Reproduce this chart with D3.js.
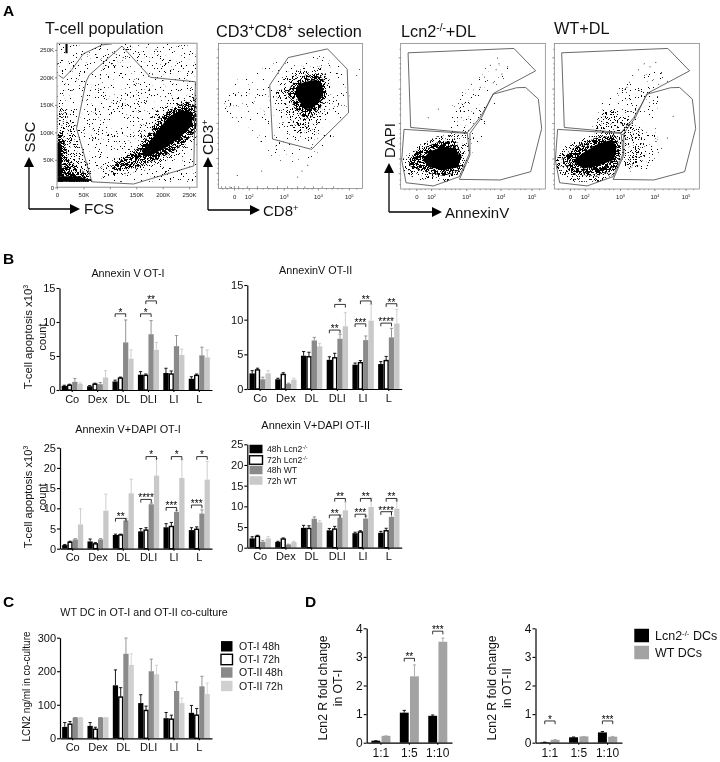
<!DOCTYPE html>
<html>
<head>
<meta charset="utf-8">
<script src="https://cdn.jsdelivr.net/npm/d3@7"></script>
<style>
  html, body { margin: 0; padding: 0; background: #fff; }
  svg { display: block; font-family: "Liberation Sans", Arial, sans-serif; filter: blur(0.3px); }
</style>
</head>
<body>
<div id="figure"></div>
<script>
// Panel A: gates and density outlines
const fcsTicks = [0, 50, 100, 150, 200, 250];
const sscTicks = [0, 50, 100, 150, 200, 250];
const fcsMainGate = [[123,257],[61,204],[55,192],[37,107],[66,10],[145,6],[259,39],[262,192],[177,200]];
const fcsTopGate = [[3,204],[12,198],[28,214],[50,243],[85,259],[104,261]];
const fcsRegions = [
  ["sparse", [[0,10],[0,262],[265,262],[265,10]]],
  ["low", [[94,41],[145,68],[177,129],[215,162],[265,171],[265,86],[227,56],[158,29],[107,22]]],
  ["low", [[0,10],[0,150],[20,150],[35,100],[55,50],[70,10]]],
  ["mid", [[104,38],[158,74],[186,116],[215,144],[246,156],[265,147],[265,104],[234,74],[196,53],[145,35],[110,29]]],
  ["mid", [[0,10],[0,100],[10,100],[22,50],[55,25],[65,10]]],
  ["solid", [[160,68],[170,74],[189,101],[211,128],[234,140],[256,137],[256,113],[234,92],[208,74],[183,60],[165,56]]],
  ["solid", [[0,10],[0,20],[38,20],[60,14],[60,10]]],
  ["solid", [[0,20],[0,80],[7,80],[10,20]]],
  ["solid", [[16,244],[16,262],[20,262],[20,244]]]
];

// biexponential axes, so these three panels are in percent of the channel range
const chanTicks = [10.8, 21, 45.3, 69, 90.5];
const chanLabels = ["0", "10^2^", "10^3^", "10^4^", "10^5^"];
const chanMinor = [3, 6, 14, 17, 27, 31, 35, 38, 41, 51, 55, 59, 62, 65, 75, 79, 83, 86, 96];

const cd3Gate = [[48.4,90.3],[75.7,96.3],[89.4,82.3],[90.3,52.2],[64.6,27],[37.5,34.1],[35.6,71.3]];
const cd3Regions = [
  ["trace", [[2,55],[4,75],[25,80],[42,88],[70,92],[85,84],[92,60],[78,32],[60,18],[40,18],[25,38],[5,50]]],
  ["sparse", [[34,62],[40,72],[50,84],[70,86],[80,72],[78,55],[72,42],[62,32],[50,34],[42,48]]],
  ["low", [[38,68],[46,76],[58,84],[72,84],[78,72],[76,60],[72,48],[64,38],[54,38],[46,52]]],
  ["mid", [[47,66],[52,73],[60,78],[70,79],[74,73],[75,65],[71,56],[66,50],[60,48],[53,55]]],
  ["solid", [[53,66],[56,72],[62,74],[68,75],[72,71],[73,66],[70,60],[65,55],[60,55],[56,60]]]
];
const cd3Dots = [[2,1],[5,1],[8,1],[11,1],[14,1],[9,0.5],[20,1],[27,1],[34,1],[41,1],[48,1],[55,1],[60,1],[66,1],[72,1],[80,1],[30,12],[58,12],[62,16],[55,8],[13,9],[96,78],[98,82]];

const annexTopGate = [[5.1,93.6],[78.3,96.6],[93.3,81.2],[64.1,65.7],[60.6,58.8],[54.9,49.2],[46.1,38.7],[6.9,42.3]];
const annexLiveGate = [[2.3,41],[46.1,38.2],[47.5,24.5],[40.6,8.5],[22.6,2.1],[3.7,4.3],[0.7,19.9]];
const annexEarlyGate = [[64.1,65.2],[80.2,69.6],[86.4,69.8],[95.2,61.8],[97.5,41.6],[89.9,11.9],[68.7,6.2],[40.6,6.6],[47.9,23.3],[47.9,38.2],[56,49.2],[62.2,62.2]];

const lcnRegions = [
  ["trace", [[33,40],[36,58],[44,68],[60,70],[66,62],[64,44],[56,25],[48,14],[44,30]]],
  ["trace", [[50,70],[60,85],[75,85],[72,72]]],
  ["sparse", [[34,38],[38,55],[46,62],[52,52],[50,38],[48,28],[46,14],[42,28]]],
  ["low", [[1,20],[8,28],[25,36],[38,38],[45,30],[44,12],[32,5],[12,6],[2,12]]],
  ["mid", [[6,21],[12,27],[25,32],[38,33],[42,24],[41,13],[30,9],[15,12],[6,16]]],
  ["solid", [[15,20],[20,26],[30,29],[38,28],[41,22],[40,15],[30,13],[20,15]]]
];
const lcnDots = [[62,85],[66,82],[68,86],[70,79],[64,73],[58,77],[55,70],[49,72],[19,49],[26,55],[74,84],[67,90]];

const wtRegions = [
  ["sparse", [[25,40],[32,58],[48,72],[62,78],[70,82],[76,78],[72,65],[70,45],[72,25],[65,14],[52,12],[48,30],[35,38]]],
  ["low", [[28,38],[30,50],[38,55],[48,50],[58,42],[64,25],[58,15],[48,15],[45,32],[35,36]]],
  ["low", [[1,20],[8,30],[28,38],[43,41],[47,28],[44,12],[32,5],[12,5],[2,12]]],
  ["mid", [[5,20],[13,28],[28,35],[42,37],[46,28],[43,14],[30,9],[12,10]]],
  ["solid", [[13,19],[20,25],[30,31],[40,34],[43,29],[41,20],[30,16],[20,14]]]
];
const wtDots = [[58,82],[62,86],[66,84],[70,87],[74,80],[54,78],[50,70],[72,72],[78,74],[82,50],[78,35],[74,28],[26,36]];

// Panels B and C: value rows are per group, in the order of the four series
const treatments = ["Co", "Dex", "DL", "DLI", "LI", "L"];
const timeSeries = ["48h Lcn2^-/-^", "72h Lcn2^-/-^", "48h WT", "72h WT"];
const cultureSeries = ["OT-I 48h", "OT-I 72h", "OT-II 48h", "OT-II 72h"];

const annexOt1 = [[0.6,0.7,1.2,0.9],[0.55,0.85,0.85,1.85],[1.25,1.75,7,4.6],[2.25,2.15,8.2,5.9],[2.5,2.35,6.45,5.15],[1.65,2.15,5.1,4.8]];
const annexOt1Top = [[0.7,0.85,1.7,1.05],[0.65,1,1.1,2.85],[1.45,1.9,10.3,5.9],[2.7,2.35,10.2,7],[3.2,2.8,8,6],[1.95,2.35,6.3,5.9]];
const annexOt1Sig = [["DL",0,2,11.2,"*"],["DLI",0,2,11.2,"*"],["DLI",1,3,13.1,"**"]];

const annexOt2 = [[2.25,2.75,1.4,2.25],[1.4,2.1,0.75,1.35],[4.8,4.65,7,6.15],[4.2,4.5,7.25,9.05],[3.5,3.8,7.05,9.85],[3.6,4.1,7.45,9.45]];
const annexOt2Top = [[2.65,3,1.7,2.65],[1.55,2.35,0.85,1.55],[5.4,5.3,7.45,6.6],[4.65,5.15,7.9,11],[3.75,4.1,7.65,12.2],[3.95,4.7,8.75,11.5]];
const annexOt2Sig = [["DLI",0,2,8.5,"**"],["DLI",1,3,12.2,"*"],["LI",0,2,9.4,"***"],["LI",1,3,12.7,"**"],["L",0,2,9.5,"****"],["L",1,3,12.3,"**"]];

const dapiOt1 = [[0.9,1.6,2.3,6],[1.8,1.2,2.3,9.4],[3.4,3.4,7,13.7],[4.3,4.6,11,18.1],[5.3,5.5,9.1,17.5],[4.6,4.8,8.7,17.1]];
const dapiOt1Top = [[1.05,1.85,2.5,9.9],[2.4,1.5,2.5,13.5],[3.6,3.6,7.4,17.2],[5,5.2,11.3,22.3],[6.2,6.5,9.4,22],[5.2,5.4,9.6,21.6]];
const dapiOt1Sig = [["DL",0,2,7.5,"**"],["DLI",0,2,12.2,"****"],["DLI",1,3,22.8,"*"],["LI",0,2,10.2,"***"],["LI",1,3,22.8,"*"],["L",0,2,10.8,"***"],["L",1,3,22.8,"*"]];

const dapiOt2 = [[2.25,2.75,1.4,2.25],[1.4,2.1,0.75,1.35],[4.8,4.65,7,6.15],[4.2,4.5,7.25,9.05],[3.5,3.8,7.05,9.85],[3.6,4.1,7.45,9.45]];
const dapiOt2Top = [[2.65,3,1.7,2.65],[1.55,2.35,0.85,1.55],[5.4,5.3,7.45,6.6],[4.65,5.15,7.9,11],[3.75,4.1,7.65,12],[3.95,4.7,8.75,11.5]];
const dapiOt2Sig = [["DLI",0,2,7.9,"**"],["DLI",1,3,11.9,"**"],["LI",0,2,8.1,"***"],["LI",1,3,11.9,"**"],["L",0,2,8.7,"****"],["L",1,3,11.9,"**"]];

const lcn2Level = [[34,42,62,62],[37,27,62,62],[158,123,252,219],[105,83,200,191],[60,57,141,105],[76,69,155,132]];
const lcn2Top = [[47,50,62,62],[47,33,62,62],[204,151,299,252],[130,96,236,218],[77,69,168,120],[98,89,185,165]];

// Panel D
const ratios = ["1:1", "1:5", "1:10"];
const dcSeries = ["Lcn2^-/-^ DCs", "WT DCs"];
const foldOt1 = [[0.07,0.24],[1.05,2.32],[0.94,3.53]];
const foldOt1Top = [[0.07,0.24],[1.13,2.72],[0.97,3.66]];
const foldOt1Sig = [["1:5",0,1,2.95,"**"],["1:10",0,1,3.9,"***"]];
const foldOt2 = [[0.02,0.1],[0.19,0.22],[0.36,0.21]];
const foldOt2Top = [[0.02,0.11],[0.2,0.22],[0.39,0.22]];
const foldOt2Sig = [["1:1",0,1,0.76,"*"],["1:10",0,1,0.76,"***"]];

const fourColors = ["#000", "#fff", "#8a8a8a", "#c9c9c9"];
const twoColors = ["#000", "#a3a3a3"];

const width = 720;
const height = 762;

const svg = d3.select("#figure").append("svg")
  .attr("width", width)
  .attr("height", height)
  .attr("viewBox", [0, 0, width, height]);

const defs = svg.append("defs");

// stipple textures for the flow cytometry clouds: cut-off on a noise field
const stipple = { trace: 0.70, sparse: 0.67, low: 0.59, mid: 0.46 };
Object.keys(stipple).forEach(function (k) {
  const f = defs.append("filter")
    .attr("id", "st-" + k)
    .attr("filterUnits", "userSpaceOnUse")
    .attr("x", 0).attr("y", 0).attr("width", width).attr("height", 240)
    .attr("color-interpolation-filters", "sRGB");
  f.append("feTurbulence")
    .attr("type", "fractalNoise")
    .attr("baseFrequency", 2.37)
    .attr("numOctaves", 1)
    .attr("seed", 4)
    .attr("result", "n");
  f.append("feColorMatrix")
    .attr("in", "n")
    .attr("type", "matrix")
    .attr("values", `0 0 0 0 0  0 0 0 0 0  0 0 0 0 0  40 0 0 0 ${-40 * stipple[k]}`)
    .attr("result", "dots");
  f.append("feComposite")
    .attr("in", "dots")
    .attr("in2", "SourceAlpha")
    .attr("operator", "in");
});

defs.append("marker")
  .attr("id", "head")
  .attr("markerUnits", "userSpaceOnUse")
  .attr("viewBox", "0 0 10 10")
  .attr("refX", 1).attr("refY", 5)
  .attr("markerWidth", 10).attr("markerHeight", 10)
  .attr("orient", "auto")
  .append("path")
  .attr("d", "M0,0L10,5L0,10Z")
  .attr("fill", "#000");

// text with ^superscript^ parts
function rich(sel, str) {
  str.split("^").forEach(function (part, i) {
    if (part === "") return;
    const t = sel.append("tspan").text(part);
    if (i % 2 === 1) {
      t.attr("font-size", "0.62em").attr("dy", "-0.55em");
    } else if (i > 0) {
      t.attr("dy", "0.34em");
    }
  });
  return sel;
}

function label(x, y, str, size, opts) {
  opts = opts || {};
  const t = svg.append("text")
    .attr("transform", `translate(${x},${y})` + (opts.rotate ? " rotate(-90)" : ""))
    .attr("font-size", size)
    .attr("text-anchor", opts.anchor || "start")
    .attr("font-weight", opts.bold ? "bold" : null)
    .attr("fill", opts.fill || "#111");
  return rich(t, str);
}

function arrow(x0, y0, x1, y1) {
  svg.append("line")
    .attr("x1", x0).attr("y1", y0).attr("x2", x1).attr("y2", y1)
    .attr("stroke", "#000").attr("stroke-width", 1.3)
    .attr("marker-end", "url(#head)");
}

// one flow cytometry dot plot
function facsPanel(cfg) {
  const x = d3.scaleLinear().domain(cfg.xDomain).range([cfg.left, cfg.right]);
  const y = d3.scaleLinear().domain(cfg.yDomain).range([cfg.bottom, cfg.top]);
  const g = svg.append("g");
  const line = d3.line().x(d => x(d[0])).y(d => y(d[1])).curve(d3.curveLinearClosed);

  defs.append("clipPath").attr("id", cfg.id)
    .append("rect")
    .attr("x", cfg.left).attr("y", cfg.top)
    .attr("width", cfg.right - cfg.left).attr("height", cfg.bottom - cfg.top);

  const marks = g.append("g").attr("clip-path", `url(#${cfg.id})`);
  cfg.regions.forEach(function (r) {
    marks.append("g")
      .attr("filter", r[0] === "solid" ? null : `url(#st-${r[0]})`)
      .append("path")
      .attr("d", line(r[1]))
      .attr("fill", "#000");
  });
  marks.selectAll(".dot")
    .data(cfg.dots || [])
    .enter()
    .append("circle")
    .attr("cx", d => x(d[0]))
    .attr("cy", d => y(d[1]))
    .attr("r", 0.5)
    .attr("fill", "#000");

  (cfg.gates || []).forEach(function (gate) {
    g.append("path")
      .attr("d", line(gate))
      .attr("fill", "none")
      .attr("stroke", "#444")
      .attr("stroke-width", 0.8);
  });
  if (cfg.openGate) {
    g.append("path")
      .attr("d", d3.line().x(d => x(d[0])).y(d => y(d[1]))(cfg.openGate))
      .attr("fill", "none")
      .attr("stroke", "#444")
      .attr("stroke-width", 0.8);
  }

  g.append("rect")
    .attr("x", cfg.left).attr("y", cfg.top)
    .attr("width", cfg.right - cfg.left).attr("height", cfg.bottom - cfg.top)
    .attr("fill", "none")
    .attr("stroke", cfg.border)
    .attr("stroke-width", cfg.borderWidth);

  const xAxis = g.append("g")
    .attr("transform", `translate(0,${cfg.bottom})`)
    .call(d3.axisBottom(x).tickValues(cfg.xTicks).tickSize(2).tickPadding(cfg.padX).tickFormat(cfg.xFormat));
  const yAxis = g.append("g")
    .attr("transform", `translate(${cfg.left},0)`)
    .call(d3.axisLeft(y).tickValues(cfg.yTicks).tickSize(2).tickPadding(1).tickFormat(cfg.yFormat));
  [xAxis, yAxis].forEach(function (a) {
    a.select(".domain").remove();
    a.selectAll("line").attr("stroke", "#444").attr("stroke-width", 0.6);
    a.selectAll("text").attr("font-size", 6).attr("fill", "#222").attr("font-family", "inherit");
  });

  if (cfg.chan) {
    // channel labels need real superscripts, tspans go in after the axis call
    xAxis.selectAll(".tick text").each(function (d, i) {
      const t = d3.select(this).text(null);
      rich(t, chanLabels[i]);
    });
    xAxis.selectAll(".minor")
      .data(chanMinor)
      .enter()
      .append("line")
      .attr("x1", d => x(d)).attr("x2", d => x(d))
      .attr("y1", 0).attr("y2", 1.2)
      .attr("stroke", "#444").attr("stroke-width", 0.5);
    yAxis.selectAll(".minor")
      .data(chanMinor)
      .enter()
      .append("line")
      .attr("y1", d => y(d)).attr("y2", d => y(d))
      .attr("x1", 0).attr("x2", -1.2)
      .attr("stroke", "#444").attr("stroke-width", 0.5);
  }
}

const chanPanel = {
  xDomain: [0, 100], yDomain: [0, 100], xTicks: chanTicks, yTicks: chanTicks,
  xFormat: d => "", yFormat: () => "", padX: 4, chan: true,
  border: "#777", borderWidth: 0.7, top: 43.5
};

facsPanel({
  id: "clipFcs", left: 57, right: 197, top: 43.3, bottom: 187.3,
  xDomain: [0, 265], yDomain: [0, 262], xTicks: fcsTicks, yTicks: sscTicks,
  xFormat: d => d ? d + "K" : "0", yFormat: d => d ? d + "K" : "0", padX: 3,
  regions: fcsRegions, gates: [fcsMainGate], openGate: fcsTopGate,
  border: "#aaa", borderWidth: 1.3
});
facsPanel(Object.assign({}, chanPanel, {
  id: "clipCd3", left: 218.5, right: 362.5, bottom: 188.5,
  regions: cd3Regions, dots: cd3Dots, gates: [cd3Gate]
}));
facsPanel(Object.assign({}, chanPanel, {
  id: "clipLcn", left: 400.7, right: 545.3, bottom: 189,
  regions: lcnRegions, dots: lcnDots, gates: [annexTopGate, annexLiveGate, annexEarlyGate]
}));
facsPanel(Object.assign({}, chanPanel, {
  id: "clipWt", left: 554.3, right: 699.3, bottom: 189,
  regions: wtRegions, dots: wtDots, gates: [annexTopGate, annexLiveGate, annexEarlyGate]
}));

// one bar chart with upper error bars and significance brackets
function barPanel(cfg) {
  const g = svg.append("g");
  const y = d3.scaleLinear().domain([0, cfg.yMax]).range([cfg.y0, cfg.yTop]);
  const x = d3.scaleBand().domain(cfg.groups).range([cfg.x0, cfg.x1])
    .paddingInner(cfg.gap).paddingOuter(cfg.gap / 2);
  const sub = d3.scaleBand().domain(d3.range(cfg.colors.length))
    .range([0, x.bandwidth()]).paddingInner(cfg.subGap || 0);

  const groups = g.selectAll(".group")
    .data(cfg.groups)
    .enter()
    .append("g")
    .attr("class", "group")
    .attr("transform", d => `translate(${x(d)},0)`);

  cfg.colors.forEach(function (color, s) {
    const stroke = color === "#fff" ? "#000" : color;
    const cx = sub(s) + sub.bandwidth() / 2;
    // error bar first so the bar sits on top of it
    groups.append("line")
      .attr("x1", cx).attr("x2", cx)
      .attr("y1", (d, i) => y(cfg.values[i][s]))
      .attr("y2", (d, i) => y(cfg.tops[i][s]))
      .attr("stroke", stroke).attr("stroke-width", 0.9);
    groups.append("line")
      .attr("x1", cx - 1.6).attr("x2", cx + 1.6)
      .attr("y1", (d, i) => y(cfg.tops[i][s]))
      .attr("y2", (d, i) => y(cfg.tops[i][s]))
      .attr("stroke", stroke).attr("stroke-width", 0.9);
    const inset = color === "#fff" ? 0.7 : 0;
    groups.append("rect")
      .attr("x", sub(s) + inset)
      .attr("width", sub.bandwidth() - 2 * inset)
      .attr("y", (d, i) => y(cfg.values[i][s]))
      .attr("height", (d, i) => cfg.y0 - y(cfg.values[i][s]))
      .attr("fill", color)
      .attr("stroke", color === "#fff" ? "#000" : "none")
      .attr("stroke-width", 1.4);
  });

  const brackets = g.selectAll(".bracket")
    .data(cfg.sig || [])
    .enter()
    .append("g")
    .attr("class", "bracket");
  brackets.append("path")
    .attr("d", function (d) {
      const a = x(d[0]) + sub(d[1]) + sub.bandwidth() / 2;
      const b = x(d[0]) + sub(d[2]) + sub.bandwidth() / 2;
      const h = y(d[3]);
      return `M${a},${h + 3.2}V${h}H${b}V${h + 3.2}`;
    })
    .attr("fill", "none")
    .attr("stroke", "#000")
    .attr("stroke-width", 0.8);
  brackets.append("text")
    .attr("x", d => x(d[0]) + (sub(d[1]) + sub(d[2]) + sub.bandwidth()) / 2)
    .attr("y", d => y(d[3]) + 1.8)
    .attr("text-anchor", "middle")
    .attr("font-size", 10)
    .attr("fill", "#000")
    .text(d => d[4]);

  const yAxis = g.append("g")
    .attr("transform", `translate(${cfg.x0},0)`)
    .call(d3.axisLeft(y).tickValues(cfg.yTicks).tickFormat(d3.format("d")).tickSize(3).tickSizeOuter(0).tickPadding(1));
  const xAxis = g.append("g")
    .attr("transform", `translate(0,${cfg.y0})`)
    .call(d3.axisBottom(x).tickSize(2).tickSizeOuter(0).tickPadding(cfg.padX || 3));
  [yAxis, xAxis].forEach(function (a) {
    a.select(".domain").attr("stroke", "#000").attr("stroke-width", 1.2);
    a.selectAll("line").attr("stroke", "#000").attr("stroke-width", 1.1);
    a.selectAll("text").attr("font-size", cfg.tickSize || 11).attr("fill", "#111").attr("font-family", "inherit");
  });
}

barPanel({ groups: treatments, colors: fourColors, values: annexOt1, tops: annexOt1Top, sig: annexOt1Sig,
  yMax: 15, yTicks: [0, 5, 10, 15], x0: 59.5, x1: 212, y0: 390, yTop: 288, gap: 0.17 });
barPanel({ groups: treatments, colors: fourColors, values: annexOt2, tops: annexOt2Top, sig: annexOt2Sig,
  yMax: 15, yTicks: [0, 5, 10, 15], x0: 247.3, x1: 401.7, y0: 389, yTop: 285, gap: 0.17 });
barPanel({ groups: treatments, colors: fourColors, values: dapiOt1, tops: dapiOt1Top, sig: dapiOt1Sig,
  yMax: 25, yTicks: [0, 5, 10, 15, 20, 25], x0: 60, x1: 212, y0: 548.7, yTop: 447.7, gap: 0.17 });
barPanel({ groups: treatments, colors: fourColors, values: dapiOt2, tops: dapiOt2Top, sig: dapiOt2Sig,
  yMax: 25, yTicks: [0, 5, 10, 15, 20, 25], x0: 247.3, x1: 401.7, y0: 547.7, yTop: 444.3, gap: 0.17 });
barPanel({ groups: treatments, colors: ["#000", "#fff", "#8a8a8a", "#d0d0d0"], values: lcn2Level, tops: lcn2Top,
  yMax: 300, yTicks: [0, 100, 200, 300], x0: 60, x1: 212, y0: 738.3, yTop: 637.7, gap: 0.17 });
barPanel({ groups: ratios, colors: twoColors, values: foldOt1, tops: foldOt1Top, sig: foldOt1Sig,
  yMax: 4, yTicks: [0, 1, 2, 3, 4], x0: 366.7, x1: 452, y0: 742.7, yTop: 628.3, gap: 0.33, subGap: 0.13, padX: 4, tickSize: 12 });
barPanel({ groups: ratios, colors: twoColors, values: foldOt2, tops: foldOt2Top, sig: foldOt2Sig,
  yMax: 4, yTicks: [0, 1, 2, 3, 4], x0: 535.5, x1: 622, y0: 742.7, yTop: 628.3, gap: 0.33, subGap: 0.13, padX: 4, tickSize: 12 });

// legends
function legend(names, colors, x, ys, w, h, textX, size) {
  names.forEach(function (name, i) {
    svg.append("rect")
      .attr("x", x).attr("y", ys[i] - h / 2)
      .attr("width", w).attr("height", h)
      .attr("fill", colors[i])
      .attr("stroke", colors[i] === "#fff" ? "#000" : "none")
      .attr("stroke-width", 1.4);
    label(textX, ys[i] + size * 0.35, name, size);
  });
}
legend(timeSeries, fourColors, 249.5, [449, 460, 470, 480.5], 13, 8.5, 267, 8.6);
legend(cultureSeries, ["#000", "#fff", "#8a8a8a", "#d0d0d0"], 221, [646.3, 659.5, 672.5, 686], 11.5, 10.4, 239, 10.5);
legend(dcSeries, twoColors, 634.3, [635.5, 652.5], 14.7, 13.5, 655, 12.5);

// panel letters and titles
label(3, 15.5, "A", 15.5, { bold: true, fill: "#000" });
label(3, 263.5, "B", 15.5, { bold: true, fill: "#000" });
label(3, 606.5, "C", 15.5, { bold: true, fill: "#000" });
label(305, 606.5, "D", 15.5, { bold: true, fill: "#000" });

label(45, 34, "T-cell population", 16.3);
label(216, 37, "CD3^+^CD8^+^ selection", 16.3);
label(401, 37, "Lcn2^-/-^+DL", 16.3);
label(554, 34, "WT+DL", 16.3);

arrow(29, 209, 29, 166);
arrow(29, 209, 71, 209);
label(35, 152.5, "SSC", 15, { rotate: true });
label(84, 214, "FCS", 15);

arrow(208, 210, 208, 166);
arrow(208, 210, 251, 210);
label(213, 155, "CD3^+^", 15, { rotate: true });
label(263, 216, "CD8^+^", 15);

arrow(389, 212, 389, 172);
arrow(389, 212, 433, 212);
label(395, 158, "DAPI", 15, { rotate: true });
label(445, 218, "AnnexinV", 15);

label(128, 277, "Annexin V OT-I", 10.8, { anchor: "middle" });
label(315.7, 274, "AnnexinV OT-II", 10.8, { anchor: "middle" });
label(128, 433, "Annexin V+DAPI OT-I", 10.9, { anchor: "middle" });
label(315.7, 429, "Annexin V+DAPI OT-II", 10.9, { anchor: "middle" });
label(144, 616, "WT DC in OT-I and OT-II co-culture", 10.7, { anchor: "middle" });

label(32, 337, "T-cell apoptosis x10^3^", 11.4, { rotate: true, anchor: "middle" });
label(46, 337, "count", 11, { rotate: true, anchor: "middle" });
label(32, 497, "T-cell apoptosis x10^3^", 11.2, { rotate: true, anchor: "middle" });
label(46, 497, "count", 11, { rotate: true, anchor: "middle" });
label(30, 686.5, "LCN2 ng/ml in co-culture", 10, { rotate: true, anchor: "middle" });

label(327, 688, "Lcn2 R fold change", 12.2, { rotate: true, anchor: "middle" });
label(342, 688, "in OT-I", 12.2, { rotate: true, anchor: "middle" });
label(496, 688, "Lcn2 R fold change", 12.2, { rotate: true, anchor: "middle" });
label(511, 688, "in OT-II", 12.2, { rotate: true, anchor: "middle" });
</script>
</body>
</html>
